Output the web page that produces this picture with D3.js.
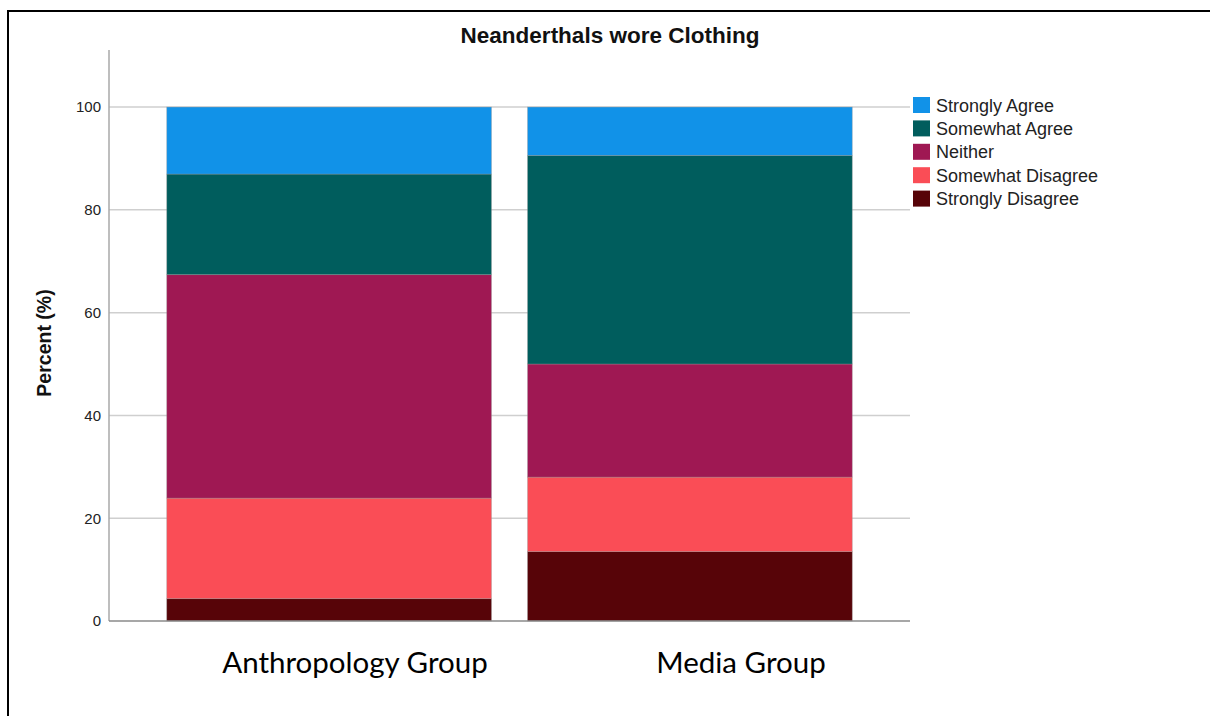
<!DOCTYPE html>
<html>
<head>
<meta charset="utf-8">
<script src="https://cdn.jsdelivr.net/npm/d3@7"></script>
<style>
  html, body { margin: 0; padding: 0; background: #fff; }
  svg { display: block; }
</style>
</head>
<body>
<svg id="chart" width="1210" height="716"></svg>
<script>
// ---- data ----
const groups = ["Anthropology Group", "Media Group"];
const responses = ["Strongly Disagree", "Somewhat Disagree", "Neither", "Somewhat Agree", "Strongly Agree"];
const stronglyDisagree = [4.35, 13.5];
const somewhatDisagree = [19.56, 14.5];
const neither = [43.48, 22.0];
const somewhatAgree = [19.57, 40.6];
const stronglyAgree = [13.04, 9.4];
const yTicks = [0, 20, 40, 60, 80, 100];
const legendOrder = ["Strongly Agree", "Somewhat Agree", "Neither", "Somewhat Disagree", "Strongly Disagree"];
const colors = ["#570408", "#fa4d56", "#9f1853", "#005d5d", "#1192e8"];
const title = "Neanderthals wore Clothing";
const yLabel = "Percent (%)";

// ---- build table ----
const seriesValues = [stronglyDisagree, somewhatDisagree, neither, somewhatAgree, stronglyAgree];
const table = groups.map((g, i) => {
  const row = { group: g };
  responses.forEach((r, k) => row[r] = seriesValues[k][i]);
  return row;
});
const stacked = d3.stack().keys(responses)(table);

const svg = d3.select("#chart");
const color = d3.scaleOrdinal().domain(responses).range(colors);

const x = d3.scaleBand().domain(groups).range([109, 910]).paddingInner(0.1).paddingOuter(0.16);
const y = d3.scaleLinear().domain([0, 111.1]).range([621, 50]);

// frame
svg.append("path")
  .attr("d", "M8,720 L8,11 L1215,11")
  .attr("fill", "none").attr("stroke", "#000").attr("stroke-width", 2);

// gridlines
svg.append("g").selectAll("line").data(yTicks.filter(t => t > 0)).join("line")
  .attr("x1", 109).attr("x2", 910)
  .attr("y1", d => y(d)).attr("y2", d => y(d))
  .attr("stroke", "#cfcfcf").attr("stroke-width", 1.5);

// bars
svg.append("g").selectAll("g").data(stacked).join("g")
  .attr("fill", d => color(d.key))
  .selectAll("rect").data(d => d).join("rect")
  .attr("x", d => x(d.data.group))
  .attr("width", x.bandwidth())
  .attr("y", d => y(d[1]))
  .attr("height", d => y(d[0]) - y(d[1]))
  .attr("stroke", "rgba(150,150,150,0.45)").attr("stroke-width", 0.8);

// y axis
const yAxis = svg.append("g").attr("transform", "translate(109,0)")
  .call(d3.axisLeft(y).tickValues(yTicks).tickSize(0).tickPadding(8).tickFormat(d3.format("d")));
yAxis.select(".domain").attr("stroke", "#a8a8a8").attr("stroke-width", 1.5)
  .attr("d", `M0,${y(111.1)}V${y(0)}`);
yAxis.selectAll("text").attr("font-family", "Liberation Sans, Arial, sans-serif")
  .attr("font-size", 15).attr("fill", "#222");

// x axis line
svg.append("line").attr("x1", 109).attr("x2", 910).attr("y1", y(0)).attr("y2", y(0))
  .attr("stroke", "#8a8a8a").attr("stroke-width", 1.5);

// title
svg.append("text").attr("x", 610).attr("y", 43).attr("text-anchor", "middle")
  .attr("font-family", "Liberation Sans, Arial, sans-serif").attr("font-weight", "bold")
  .attr("font-size", 22.5).attr("fill", "#111").text(title);

// y label
svg.append("text").attr("transform", "translate(51,343) rotate(-90)").attr("text-anchor", "middle")
  .attr("font-family", "Liberation Sans, Arial, sans-serif").attr("font-weight", "bold")
  .attr("font-size", 19.5).attr("fill", "#111").text(yLabel);

// legend
const legend = svg.append("g").attr("transform", "translate(913,97)");
const li = legend.selectAll("g").data(legendOrder).join("g")
  .attr("transform", (d, i) => `translate(0,${i * 23.4})`);
li.append("rect").attr("width", 17).attr("height", 16).attr("fill", d => color(d));
li.append("text").attr("x", 23).attr("y", 14.5)
  .attr("font-family", "Liberation Sans, Arial, sans-serif").attr("font-size", 18)
  .attr("fill", "#222").text(d => d);

// category labels (pasted text, Calibri-like)
const catPos = [355, 741];
svg.append("g").selectAll("text").data(groups).join("text")
  .attr("x", (d, i) => catPos[i]).attr("y", 673).attr("text-anchor", "middle")
  .attr("font-family", "Lato, 'Open Sans', sans-serif").attr("font-size", 29.5)
  .attr("fill", "#000").text(d => d);
</script>
</body>
</html>
